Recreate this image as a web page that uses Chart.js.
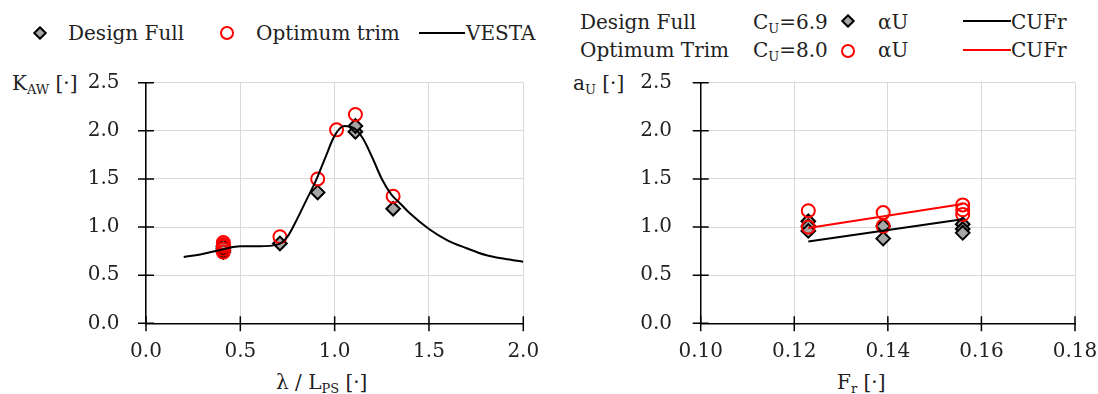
<!DOCTYPE html>
<html>
<head>
<meta charset="utf-8">
<script src="https://cdn.jsdelivr.net/npm/chart.js@4.4.1/dist/chart.umd.min.js"></script>
<style>
  html, body { margin: 0; padding: 0; background: #fff; }
  #wrap { position: relative; width: 1098px; height: 394px; overflow: hidden;
          font-family: "DejaVu Serif", serif; font-size: 20px; color: #222; }
  .t { position: absolute; white-space: nowrap; line-height: 20px; height: 20px; }
  .t sub { font-size: 13px; vertical-align: -4px; line-height: 0; }
  .dia { position: absolute; width: 10px; height: 10px; box-sizing: border-box;
         border: 2px solid #000; background: #a6a6a6; transform: rotate(45deg); }
  .cir { position: absolute; width: 14px; height: 14px; box-sizing: border-box;
         border: 2px solid #ff0000; border-radius: 50%; }
  .ln { position: absolute; height: 2px; }
  canvas { position: absolute; }
</style>
</head>
<body>
<div id="wrap">
  <!-- legende esquerda -->
  <div class="dia" style="left:34.5px; top:28px"></div>
  <div class="t" style="left:68px; top:23px">Design Full</div>
  <div class="cir" style="left:219.5px; top:26px"></div>
  <div class="t" style="left:256px; top:23px">Optimum trim</div>
  <div class="ln" style="left:419px; top:32px; width:46px; background:#000"></div>
  <div class="t" style="left:466px; top:23px">VESTA</div>

  <!-- legende direita -->
  <div class="t" style="left:580px; top:12px">Design Full</div>
  <div class="t" style="left:753px; top:12px">C<sub>U</sub>=6.9</div>
  <div class="dia" style="left:843px; top:16px"></div>
  <div class="t" style="left:878px; top:12px">αU</div>
  <div class="ln" style="left:963px; top:20px; width:48px; background:#000"></div>
  <div class="t" style="left:1011px; top:12px">CUFr</div>

  <div class="t" style="left:580px; top:40px">Optimum Trim</div>
  <div class="t" style="left:753px; top:40px">C<sub>U</sub>=8.0</div>
  <div class="cir" style="left:841px; top:44px"></div>
  <div class="t" style="left:878px; top:40px">αU</div>
  <div class="ln" style="left:963px; top:49px; width:48px; background:#ff0000"></div>
  <div class="t" style="left:1011px; top:40px">CUFr</div>

  <!-- títulos dos eixos -->
  <div class="t" style="left:12px; top:73px">K<sub>AW</sub> [·]</div>
  <div class="t" style="left:573px; top:73px">a<sub>U</sub> [·]</div>
  <div class="t" style="left:276px; top:372px">λ / L<sub>PS</sub> [·]</div>
  <div class="t" style="left:837px; top:372px">F<sub>r</sub> [·]</div>

  <canvas id="cKaw" width="549" height="324" style="left:0; top:70px"></canvas>
  <canvas id="cAu" width="538" height="324" style="left:560px; top:70px"></canvas>
</div>
<script>
// ---- dados ----
const kawTicksX = [0, 0.5, 1.0, 1.5, 2.0];
const designFullX = [0.41, 0.41, 0.41, 0.41, 0.71, 0.91, 1.11, 1.11, 1.31];
const designFullY = [0.74, 0.76, 0.78, 0.80, 0.83, 1.36, 1.99, 2.05, 1.19];
const optimumX = [0.41, 0.41, 0.41, 0.41, 0.41, 0.71, 0.91, 1.01, 1.11, 1.31];
const optimumY = [0.74, 0.77, 0.80, 0.82, 0.84, 0.90, 1.50, 2.01, 2.17, 1.32];
const vestaX = [0.20, 0.30, 0.41, 0.50, 0.60, 0.70, 0.75, 0.80, 0.85, 0.90, 0.95, 1.00, 1.05,
                1.10, 1.15, 1.20, 1.25, 1.30, 1.35, 1.40, 1.50, 1.60, 1.70, 1.80, 1.90, 2.00];
const vestaY = [0.69, 0.72, 0.77, 0.80, 0.80, 0.82, 0.90, 1.08, 1.28, 1.48, 1.72, 1.95, 2.05,
                2.03, 1.92, 1.72, 1.50, 1.34, 1.24, 1.14, 0.98, 0.86, 0.78, 0.71, 0.67, 0.64];

const auDesignX = [0.123, 0.123, 0.123, 0.139, 0.139, 0.156, 0.156, 0.156];
const auDesignY = [1.06, 1.01, 0.96, 1.01, 0.88, 1.03, 0.98, 0.94];
const auOptX = [0.123, 0.123, 0.139, 0.139, 0.156, 0.156, 0.156];
const auOptY = [1.17, 1.00, 1.15, 1.01, 1.23, 1.18, 1.13];
const cufrDesignX = [0.123, 0.156];
const cufrDesignY = [0.85, 1.08];
const cufrOptX = [0.123, 0.156];
const cufrOptY = [0.99, 1.24];

const pts = (xs, ys) => xs.map((x, i) => ({ x, y: ys[i] }));
const tickFont = { family: 'DejaVu Serif', size: 20 };
const gridColor = '#d9d9d9';

// marcas de escala que cruzam o eixo (como no original)
const crossTicks = {
  id: 'crossTicks',
  beforeDatasetsDraw(chart) {
    const { ctx, chartArea: a, scales: { x, y } } = chart;
    ctx.save();
    ctx.strokeStyle = '#000';
    ctx.lineWidth = 1.5;
    ctx.beginPath();
    y.ticks.forEach(t => { const py = y.getPixelForValue(t.value); ctx.moveTo(a.left - 8, py); ctx.lineTo(a.left + 8, py); });
    x.ticks.forEach(t => { const px = x.getPixelForValue(t.value); ctx.moveTo(px, a.bottom - 7); ctx.lineTo(px, a.bottom + 8); });
    ctx.stroke();
    ctx.restore();
  }
};

// tamanhos fixos dos eixos; zera o padding automático que o Chart.js soma ao ticks.padding
const scalesFor = (xMin, xMax, xStep, xDigits, yAxisW, yPad) => ({
  x: {
    type: 'linear', min: xMin, max: xMax,
    ticks: { stepSize: xStep, callback: v => v.toFixed(xDigits), font: tickFont, color: '#222', padding: 16, maxRotation: 0 },
    grid: { color: gridColor, drawTicks: false },
    border: { color: '#000', width: 1.5 },
    afterFit: s => { s.height = 70.7; s.paddingLeft = 0; s.paddingRight = 0; }
  },
  y: {
    type: 'linear', min: 0, max: 2.5,
    ticks: { stepSize: 0.5, callback: v => v.toFixed(1), font: tickFont, color: '#222', padding: yPad },
    grid: { color: gridColor, drawTicks: false },
    border: { color: '#000', width: 1.5 },
    afterFit: s => { s.width = yAxisW; s.paddingTop = 0; s.paddingBottom = 0; }
  }
});

const baseOpts = (padRight, scales) => ({
  responsive: false, animation: false,
  layout: { padding: { top: 12.7, right: padRight, left: 0, bottom: 0 } },
  plugins: { legend: { display: false }, tooltip: { enabled: false } },
  scales
});

new Chart(document.getElementById('cKaw'), {
  type: 'scatter',
  data: { datasets: [
    { label: 'VESTA', data: pts(vestaX, vestaY), showLine: true, borderColor: '#000', borderWidth: 2,
      pointRadius: 0, cubicInterpolationMode: 'monotone', order: 1 },
    { label: 'Optimum trim', data: pts(optimumX, optimumY), pointStyle: 'circle', pointRadius: 6.5,
      borderColor: '#ff0000', borderWidth: 2, backgroundColor: 'rgba(0,0,0,0)', order: 2 },
    { label: 'Design Full', data: pts(designFullX, designFullY), pointStyle: 'rectRot', pointRadius: 6.8,
      borderColor: '#000', borderWidth: 2, backgroundColor: '#a6a6a6', order: 3 }
  ] },
  options: baseOpts(25.7, scalesFor(kawTicksX[0], kawTicksX[kawTicksX.length - 1], 0.5, 1, 146, 26.5)),
  plugins: [crossTicks]
});

new Chart(document.getElementById('cAu'), {
  type: 'scatter',
  data: { datasets: [
    { label: 'CUFr design', data: pts(cufrDesignX, cufrDesignY), showLine: true, borderColor: '#000',
      borderWidth: 2, pointRadius: 0, order: 1 },
    { label: 'CUFr optimum', data: pts(cufrOptX, cufrOptY), showLine: true, borderColor: '#ff0000',
      borderWidth: 2, pointRadius: 0, order: 1 },
    { label: 'αU optimum', data: pts(auOptX, auOptY), pointStyle: 'circle', pointRadius: 6.5,
      borderColor: '#ff0000', borderWidth: 2, backgroundColor: 'rgba(0,0,0,0)', order: 2 },
    { label: 'αU design', data: pts(auDesignX, auDesignY), pointStyle: 'rectRot', pointRadius: 6.8,
      borderColor: '#000', borderWidth: 2, backgroundColor: '#a6a6a6', order: 3 }
  ] },
  options: baseOpts(23, scalesFor(0.10, 0.18, 0.02, 2, 140.7, 28.7)),
  plugins: [crossTicks]
});
</script>
</body>
</html>
